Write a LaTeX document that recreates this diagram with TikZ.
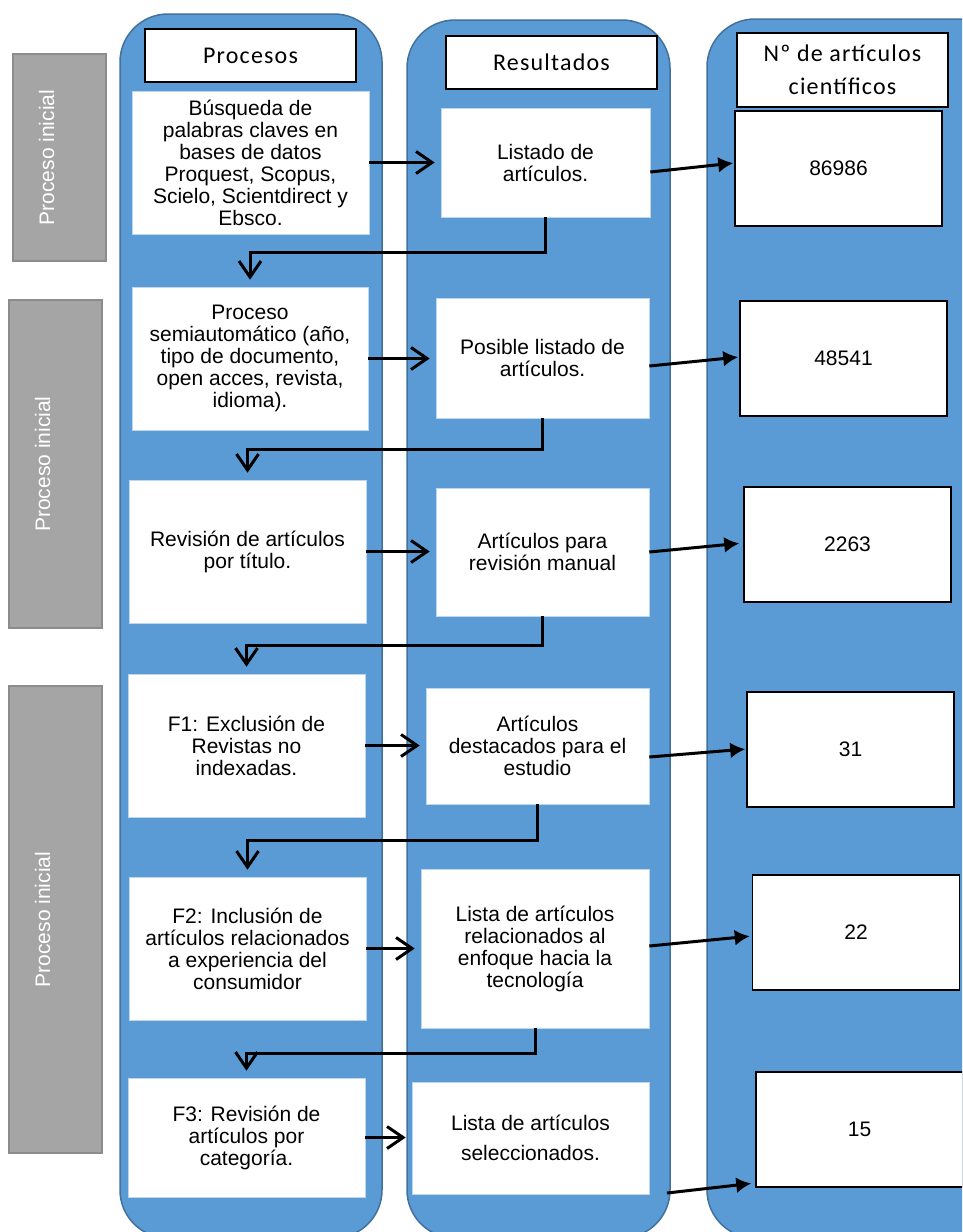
\documentclass[tikz,border=0pt]{standalone}
\usepackage{fontspec}
\setmainfont{Liberation Sans}
\newfontfamily\hdrfont[LetterSpace=5]{Carlito}
\usetikzlibrary{arrows.meta,calc}
\definecolor{colblue}{HTML}{5B9BD5}
\definecolor{colborder}{HTML}{41719C}
\definecolor{grayfill}{HTML}{A5A5A5}
\definecolor{grayborder}{HTML}{8C8C8C}
\definecolor{boxedge}{HTML}{BDD7EE}
\begin{document}
\begin{tikzpicture}[x=1pt,y=-1pt,
  column/.style={fill=colblue,draw=colborder,line width=1.5pt,rounded corners=48pt,inner sep=0pt},
  sidelabel/.style={fill=grayfill,draw=grayborder,line width=2.5pt,minimum width=93pt,inner sep=0pt},
  sidetext/.style={rotate=90,text=white,font=\fontsize{21}{22}\selectfont,inner sep=0pt},
  pbox/.style={fill=white,draw=boxedge,line width=0.6pt,align=center,font=\fontsize{21}{22}\selectfont,inner sep=0pt},
  hbox/.style={fill=white,draw=black,line width=1.5pt,align=center,font=\hdrfont\fontsize{24}{33}\selectfont,minimum width=211pt,inner sep=0pt},
  cbox/.style={fill=white,draw=black,line width=1.5pt,minimum width=207pt,minimum height=115pt,font=\fontsize{21}{22}\selectfont,inner sep=0pt},
  rarr/.style={line width=3pt,-{Straight Barb[length=16pt,width=22pt]},shorten >=6pt},
  carr/.style={line width=3pt,-{Latex[length=15pt,width=16pt]},shorten >=1pt},
  darr/.style={line width=3pt,-{Straight Barb[length=16pt,width=22pt]},shorten >=7pt}
]
\useasboundingbox (0,0) rectangle (962,1232);
\clip (0,0) rectangle (962,1232);

% columns
\node[column,minimum width=262pt,minimum height=1224pt] (col1) at (251,626) {};
\node[column,minimum width=263pt,minimum height=1218pt] (col2) at (538.5,629) {};
\node[column,minimum width=303pt,minimum height=1219pt] (col3) at (858.5,628.5) {};

% side labels
\node[sidelabel,minimum height=207pt] (g1) at (59.5,157.5) {};
\node[sidetext] (g1t) at ($(g1.center)+(-13,0)$) {Proceso inicial};
\node[sidelabel,minimum height=328pt] (g2) at (55.5,464) {};
\node[sidetext] (g2t) at ($(g2.center)+(-13,0)$) {Proceso inicial};
\node[sidelabel,minimum height=467pt] (g3) at (55.5,919.5) {};
\node[sidetext] (g3t) at ($(g3.center)+(-13,0)$) {Proceso inicial};

% headers
\node[hbox,minimum height=53pt] (h1) at (250.5,55.5) {Procesos};
\node[hbox,minimum height=53pt] (h2) at (551.5,62.5) {Resultados};
\node[hbox,minimum height=74pt] (h3) at (842.5,70) {Nº de artículos\\científicos};

% process boxes
\node[pbox,minimum width=237pt,minimum height=143pt] (p1) at (250.5,162.5) {Búsqueda de\\palabras claves en\\bases de datos\\Proquest, Scopus,\\Scielo, Scientdirect y\\Ebsco.};
\node[pbox,minimum width=236pt,minimum height=143pt] (p2) at (250,358.5) {Proceso\\semiautomático (año,\\tipo de documento,\\open acces, revista,\\idioma).};
\node[pbox,minimum width=237pt,minimum height=143pt] (p3) at (247.5,551.5) {Revisión de artículos\\por título.};
\node[pbox,minimum width=237pt,minimum height=143pt] (p4) at (246.5,745.5) {F1: Exclusión de\\Revistas no\\indexadas.};
\node[pbox,minimum width=237pt,minimum height=143pt] (p5) at (247.5,948.5) {F2: Inclusión de\\artículos relacionados\\a experiencia del\\consumidor};
\node[pbox,minimum width=237pt,minimum height=119pt] (p6) at (246.5,1137.5) {F3: Revisión de\\artículos por\\categoría.};

% result boxes
\node[pbox,minimum width=209pt,minimum height=109pt] (r1) at (545.5,162.5) {Listado de\\artículos.};
\node[pbox,minimum width=213pt,minimum height=120pt] (r2) at (542.5,358) {Posible listado de\\artículos.};
\node[pbox,minimum width=213pt,minimum height=128pt] (r3) at (542.5,552) {Artículos para\\revisión manual};
\node[pbox,minimum width=223pt,minimum height=116pt] (r4) at (537.5,746) {Artículos\\destacados para el\\estudio};
\node[pbox,minimum width=228pt,minimum height=159pt] (r5) at (535,948.5) {Lista de artículos\\relacionados al\\enfoque hacia la\\tecnología};
\node[pbox,minimum width=237pt,minimum height=112pt,font=\fontsize{21}{30}\selectfont] (r6) at (530.5,1138) {Lista de artículos\\seleccionados.};

% count boxes
\node[cbox] (c1) at (838.5,168.5) {86986};
\node[cbox] (c2) at (843.5,358.5) {48541};
\node[cbox] (c3) at (847.5,544.5) {2263};
\node[cbox] (c4) at (850.5,749.5) {31};
\node[cbox] (c5) at (856,932.5) {22};
\node[cbox] (c6) at (859.5,1129.5) {15};

% process -> result
\draw[rarr] (p1.east) -- (p1.east -| r1.west);
\draw[rarr] (p2.east) -- (p2.east -| r2.west);
\draw[rarr] (p3.east) -- (p3.east -| r3.west);
\draw[rarr] (p4.east) -- (p4.east -| r4.west);
\draw[rarr] (p5.east) -- (p5.east -| r5.west);
\draw[rarr] (p6.east) -- (p6.east -| r6.west);

% result -> count
\draw[carr] (r1.east |- 0,172) -- (c1.west |- 0,163);
\draw[carr] (r2.east |- 0,366) -- (c2.west |- 0,357);
\draw[carr,shorten >=4pt] (r3.east |- 0,552) -- (c3.west |- 0,543);
\draw[carr] (r4.east |- 0,757) -- (c4.west |- 0,749);
\draw[carr,shorten >=2pt] (r5.east |- 0,946) -- (c5.west |- 0,936);
\coordinate (b6s) at (667,1193);
\draw[carr,shorten >=4pt] (b6s) -- (c6.west |- 0,1183);

% result -> next process
\draw[darr] (r1.south) |- (p2.north |- 0,252) -- (p2.north);
\draw[darr] (r2.south) |- (p3.north |- 0,449) -- (p3.north);
\draw[darr] (r3.south) |- (p4.north |- 0,645) -- (p4.north);
\draw[darr] (r4.south) |- (p5.north |- 0,840) -- (p5.north);
\draw[darr] (r5.south) |- (p6.north |- 0,1053) -- (p6.north);
\end{tikzpicture}
\end{document}
